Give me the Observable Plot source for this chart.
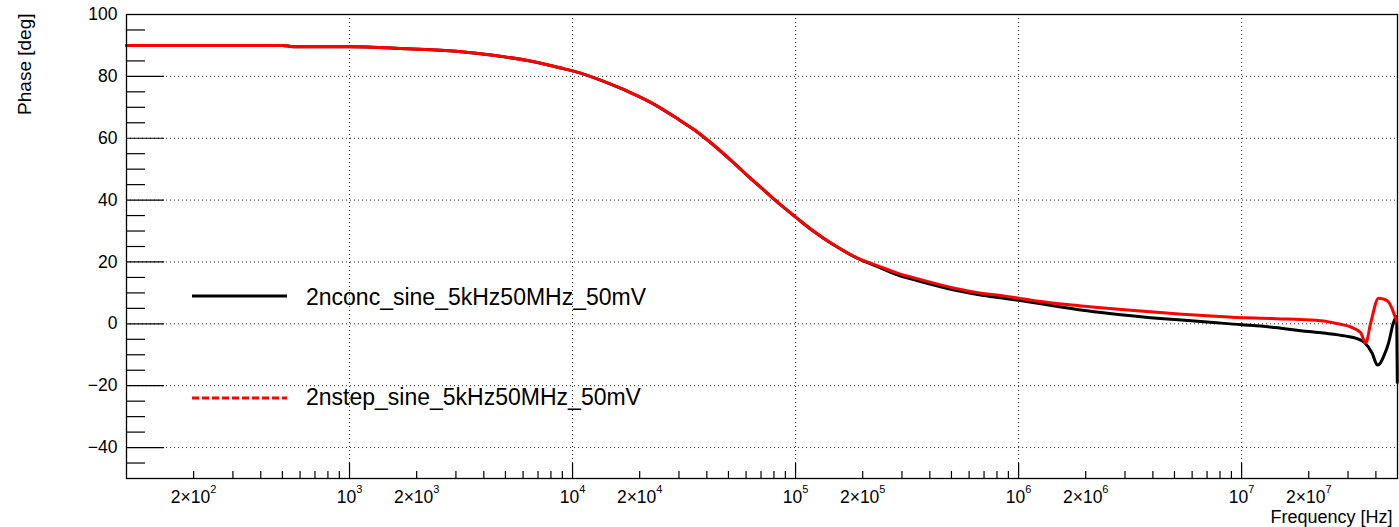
<!DOCTYPE html>
<html><head><meta charset="utf-8">
<script src="https://cdn.jsdelivr.net/npm/d3@7"></script>
<script src="https://cdn.jsdelivr.net/npm/@observablehq/plot@0.6"></script>
<style>
html,body{margin:0;padding:0;background:#fff;}
#wrap{position:relative;width:1399px;height:527px;}
</style></head><body><div id="wrap"></div>
<script>
// ---- data ----
const seriesNames = ["2nconc_sine_5kHz50MHz_50mV", "2nstep_sine_5kHz50MHz_50mV"];

const concFreq  = [100, 500, 561, 1000, 1800, 3000, 4400, 6200, 8840, 10100, 13800, 20000, 22400, 30000, 35000, 40000, 50000, 54800, 60000, 70000, 80000, 102000, 120000, 134000, 150000, 189000, 240000, 286000, 350000, 447000, 550000, 676000, 830000, 1.0e6, 1.26e6, 1.6e6, 2.03e6, 2.8e6, 3.9e6, 5.2e6, 7.0e6, 1.0e7, 1.22e7, 1.5e7, 1.84e7, 2.33e7, 2.9e7, 3.3e7, 3.55e7, 3.85e7, 4.06e7, 4.15e7, 4.33e7, 4.56e7, 4.78e7, 4.95e7, 4.99e7];
const concPhase = [90.0, 90.0, 89.6, 89.6, 88.9, 88.1, 86.8, 85.2, 82.7, 81.7, 78.4, 73.4, 71.6, 66.0, 62.8, 59.6, 53.6, 51.0, 48.3, 44.0, 40.3, 34.0, 30.0, 27.6, 25.3, 21.2, 18.1, 15.8, 14.0, 12.0, 10.5, 9.3, 8.4, 7.6, 6.5, 5.3, 4.2, 3.0, 2.0, 1.3, 0.6, -0.3, -0.7, -1.4, -2.2, -3.0, -3.9, -4.8, -6.0, -9.5, -13.3, -13.0, -10.6, -6.2, 0.0, 2.4, -19.0];

const stepFreq  = [100, 500, 561, 1000, 1800, 3000, 4400, 6200, 8840, 10100, 13800, 20000, 22400, 30000, 35000, 40000, 50000, 54800, 60000, 70000, 80000, 102000, 120000, 134000, 150000, 189000, 240000, 286000, 350000, 447000, 550000, 676000, 830000, 1.0e6, 1.26e6, 1.6e6, 2.03e6, 2.8e6, 3.9e6, 5.2e6, 7.0e6, 1.0e7, 1.22e7, 1.5e7, 1.84e7, 2.33e7, 2.7e7, 3.08e7, 3.42e7, 3.6e7, 3.79e7, 4.11e7, 4.33e7, 4.56e7, 4.75e7, 4.95e7];
const stepPhase = [90.0, 90.0, 89.6, 89.6, 88.9, 88.1, 86.8, 85.2, 82.7, 81.7, 78.4, 73.4, 71.6, 66.0, 62.8, 59.6, 53.6, 51.0, 48.3, 44.0, 40.3, 34.0, 30.0, 27.6, 25.3, 21.3, 18.4, 16.4, 14.6, 12.6, 11.1, 9.9, 9.2, 8.3, 7.2, 6.3, 5.6, 4.7, 3.9, 3.2, 2.6, 2.0, 1.8, 1.6, 1.4, 0.9, 0.0, -1.0, -2.9, -6.2, 0.2, 8.3, 8.0, 7.0, 4.5, 0.8];

const xTickValues = [200, 1e3, 2e3, 1e4, 2e4, 1e5, 2e5, 1e6, 2e6, 1e7, 2e7];
const xTickLabels = ["2×10^2", "10^3", "2×10^3", "10^4", "2×10^4", "10^5", "2×10^5", "10^6", "2×10^6", "10^7", "2×10^7"];
const xDecades = [1e3, 1e4, 1e5, 1e6, 1e7];
const yTickValues = [-40, -20, 0, 20, 40, 60, 80, 100];
const yGridValues = [-40, -20, 0, 20, 40, 60, 80];
const yMinorValues = [-45, -35, -30, -25, -15, -10, -5, 5, 10, 15, 25, 30, 35, 45, 50, 55, 65, 70, 75, 85, 90, 95];

// ---- layout ----
const W = 1399, H = 527;
const mL = 126, mR = 2, mT = 14, mB = 49;
const plotW = W - mL - mR, plotH = H - mT - mB;
const FONT = "'Liberation Sans', Arial, Helvetica, sans-serif";

const xMinor = [];
for (let e = 2; e <= 7; e++) for (let m = 2; m <= 9; m++) { const v = m * 10 ** e; if (v < 5e7) xMinor.push(v); }

const conc = concFreq.map((f, i) => ({f, p: concPhase[i]}));
const step = stepFreq.map((f, i) => ({f, p: stepPhase[i]}));

const chart = Plot.plot({
  width: W, height: H,
  marginLeft: mL, marginRight: mR, marginTop: mT, marginBottom: mB,
  style: {fontFamily: FONT, fontSize: "17px", color: "#000", background: "#fff", overflow: "visible"},
  x: {type: "log", domain: [100, 5e7]},
  y: {domain: [-50, 100]},
  marks: [
    Plot.gridX(xDecades, {stroke: "#222", strokeOpacity: 1, strokeDasharray: "1,3"}),
    Plot.gridY(yGridValues, {stroke: "#222", strokeOpacity: 1, strokeDasharray: "1,3"}),
    Plot.tickY(yTickValues, {y: d => d, insetRight: plotW - 38, stroke: "#000", strokeWidth: 1.2}),
    Plot.tickY(yMinorValues, {y: d => d, insetRight: plotW - 19, stroke: "#000", strokeWidth: 1.2}),
    Plot.tickX(xDecades, {x: d => d, insetTop: plotH - 15, stroke: "#000", strokeWidth: 1.2}),
    Plot.tickX(xMinor, {x: d => d, insetTop: plotH - 7, stroke: "#000", strokeWidth: 1.2}),
    Plot.line(conc, {x: "f", y: "p", stroke: "#000", strokeWidth: 3, curve: "monotone-x"}),
    Plot.line(step, {x: "f", y: "p", stroke: "#ff0000", strokeWidth: 3, curve: "monotone-x"}),
    Plot.frame({stroke: "#000", strokeWidth: 1.3}),
    Plot.axisX(xTickValues, {tickSize: 0, tickPadding: 12, tickFormat: (d) => xTickLabels[xTickValues.indexOf(d)], label: null, fontSize: 17.5}),
    Plot.axisY(yTickValues, {tickSize: 0, tickPadding: 9, label: null, fontSize: 17.5}),
    Plot.text(["Frequency [Hz]"], {text: d => d, frameAnchor: "bottom-right", dx: -5, dy: 44, textAnchor: "end", lineAnchor: "bottom", fontSize: 18}),
    Plot.text(["Phase [deg]"], {text: d => d, frameAnchor: "top-left", dx: -102, dy: -1, rotate: -90, textAnchor: "end", lineAnchor: "middle", fontSize: 19})
  ]
});

document.getElementById("wrap").appendChild(chart);

// superscripts for x tick labels
d3.select(chart).selectAll('g[aria-label="x-axis tick label"] text').each(function () {
  const t = d3.select(this);
  const s = t.text();
  const k = s.indexOf("^");
  if (k < 0) return;
  const base = s.slice(0, k), exp = s.slice(k + 1);
  t.text(null);
  t.append("tspan").text(base);
  t.append("tspan").attr("dy", "-10").attr("font-size", 11).text(exp);
});

// legend (no border, drawn inside the frame as in the reference)
const lg = d3.select(chart).append("g")
  .attr("font-family", FONT).attr("font-size", 23).attr("text-anchor", "start");
const legendRows = [
  {name: seriesNames[0], color: "#000", dash: null, ly: 296, ty: 305},
  {name: seriesNames[1], color: "#ff0000", dash: "7,3", ly: 398, ty: 405}
];
legendRows.forEach(r => {
  lg.append("line").attr("x1", 192).attr("x2", 287).attr("y1", r.ly).attr("y2", r.ly)
    .attr("stroke", r.color).attr("stroke-width", 3).attr("stroke-dasharray", r.dash);
  lg.append("text").attr("x", 306).attr("y", r.ty).attr("fill", "#000")
    .attr("text-anchor", "start").text(r.name);
});
</script>
</body></html>
